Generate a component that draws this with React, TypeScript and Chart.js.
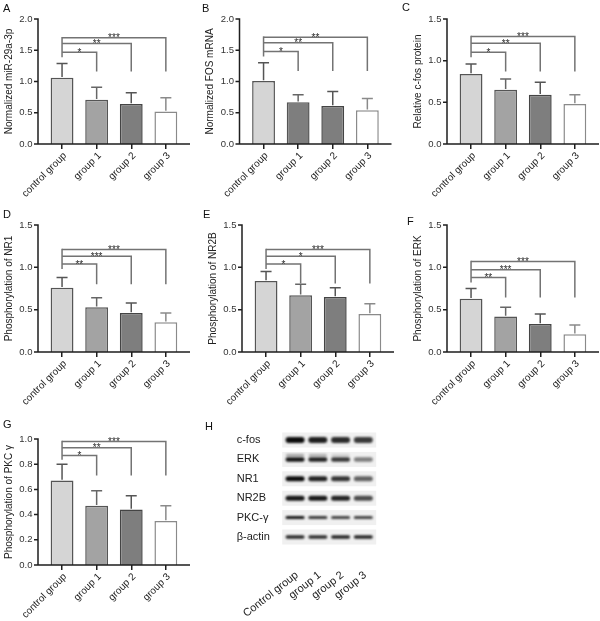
import React, { useEffect, useRef } from 'react';
import { Chart, registerables } from 'chart.js';

Chart.register(...registerables);

const FONT = "'Liberation Sans', Arial, Helvetica, sans-serif";

// ---------- data ----------
const groups = ['control group', 'group 1', 'group 2', 'group 3'];

const mir29Mean = [1.06, 0.71, 0.64, 0.52];
const mir29Err = [0.23, 0.2, 0.18, 0.22];
const mir29Stars = ['*', '**', '***'];
const mir29Levels = [1.47, 1.61, 1.7];

const fosMean = [1.01, 0.67, 0.61, 0.54];
const fosErr = [0.29, 0.12, 0.23, 0.19];
const fosStars = ['*', '**', '**'];
const fosLevels = [1.48, 1.62, 1.71];

const cfosMean = [0.84, 0.65, 0.59, 0.48];
const cfosErr = [0.12, 0.13, 0.15, 0.11];
const cfosStars = ['*', '**', '***'];
const cfosLevels = [1.1, 1.21, 1.29];

const nr1Mean = [0.76, 0.53, 0.46, 0.35];
const nr1Err = [0.12, 0.11, 0.12, 0.11];
const nr1Stars = ['**', '***', '***'];
const nr1Levels = [1.04, 1.13, 1.21];

const nr2bMean = [0.84, 0.67, 0.65, 0.45];
const nr2bErr = [0.11, 0.13, 0.11, 0.12];
const nr2bStars = ['*', '*', '***'];
const nr2bLevels = [1.04, 1.13, 1.21];

const erkMean = [0.63, 0.42, 0.33, 0.21];
const erkErr = [0.12, 0.11, 0.12, 0.11];
const erkStars = ['**', '***', '***'];
const erkLevels = [0.88, 0.97, 1.07];

const pkcMean = [0.67, 0.47, 0.44, 0.35];
const pkcErr = [0.13, 0.12, 0.11, 0.12];
const pkcStars = ['*', '**', '***'];
const pkcLevels = [0.87, 0.93, 0.98];

// western blot (panel H)
const lanes = ['Control group', 'group 1', 'group 2', 'group 3'];
const proteins = ['c-fos', 'ERK', 'NR1', 'NR2B', 'PKC-\u03b3', '\u03b2-actin'];
const cfosBand = [1.0, 0.92, 0.86, 0.8];
const erkBand = [0.95, 0.9, 0.8, 0.5];
const erkUpperBand = [0.35, 0.3, 0.15, 0.0];
const nr1Band = [1.0, 0.9, 0.82, 0.62];
const nr2bBand = [0.95, 0.95, 0.9, 0.72];
const pkcBand = [0.95, 0.8, 0.75, 0.75];
const actinBand = [0.88, 0.86, 0.9, 0.9];
const bandRows = [cfosBand, erkBand, nr1Band, nr2bBand, pkcBand, actinBand];

// ---------- styles ----------
const FILLS = ['#d5d5d5', '#a3a3a3', '#7e7e7e', '#ffffff'];
const FILLS_B = ['#d5d5d5', '#7e7e7e', '#7e7e7e', '#ffffff'];
const BORDERS = ['#555555', '#555555', '#444444', '#8a8a8a'];
const ERRC = ['#555555', '#666666', '#555555', '#8a8a8a'];

type Panel = {
  letter: string; lx: number; ly: number;
  title: string; mean: number[]; err: number[]; stars: string[]; levels: number[];
  leftStart: number; rightEnd: number; fills: string[];
  max: number; step: number;
  x0: number; y0: number; w: number; h: number; axisX: number; topPx: number; zeroPx: number;
};

const panels: Panel[] = [
  { letter: 'A', lx: 3, ly: 3, title: 'Normalized miR-29a-3p', mean: mir29Mean, err: mir29Err, stars: mir29Stars, levels: mir29Levels, leftStart: 1.39, rightEnd: 1.16, fills: FILLS, max: 2, step: 0.5, x0: 0, y0: 0, w: 200, h: 200, axisX: 38, topPx: 19, zeroPx: 144 },
  { letter: 'B', lx: 2, ly: 3, title: 'Normalized FOS mRNA', mean: fosMean, err: fosErr, stars: fosStars, levels: fosLevels, leftStart: 1.4, rightEnd: 1.17, fills: FILLS_B, max: 2, step: 0.5, x0: 200, y0: 0, w: 200, h: 200, axisX: 39.5, topPx: 19, zeroPx: 144 },
  { letter: 'C', lx: 2, ly: 2, title: 'Relative c-fos protein', mean: cfosMean, err: cfosErr, stars: cfosStars, levels: cfosLevels, leftStart: 1.04, rightEnd: 0.87, fills: FILLS, max: 1.5, step: 0.5, x0: 400, y0: 0, w: 200, h: 200, axisX: 47, topPx: 19, zeroPx: 144 },
  { letter: 'D', lx: 3, ly: 9, title: 'Phosphorylation of NR1', mean: nr1Mean, err: nr1Err, stars: nr1Stars, levels: nr1Levels, leftStart: 0.98, rightEnd: 0.8, fills: FILLS, max: 1.5, step: 0.5, x0: 0, y0: 200, w: 200, h: 210, axisX: 38, topPx: 25, zeroPx: 152 },
  { letter: 'E', lx: 3, ly: 9, title: 'Phosphorylation of NR2B', mean: nr2bMean, err: nr2bErr, stars: nr2bStars, levels: nr2bLevels, leftStart: 0.98, rightEnd: 0.81, fills: FILLS, max: 1.5, step: 0.5, x0: 200, y0: 200, w: 200, h: 210, axisX: 42, topPx: 25, zeroPx: 152 },
  { letter: 'F', lx: 7, ly: 16, title: 'Phosphorylation of ERK', mean: erkMean, err: erkErr, stars: erkStars, levels: erkLevels, leftStart: 0.82, rightEnd: 0.645, fills: FILLS, max: 1.5, step: 0.5, x0: 400, y0: 200, w: 200, h: 210, axisX: 47, topPx: 25, zeroPx: 152 },
  { letter: 'G', lx: 3, ly: 9, title: 'Phosphorylation of PKC \u03b3', mean: pkcMean, err: pkcErr, stars: pkcStars, levels: pkcLevels, leftStart: 0.836, rightEnd: 0.71, fills: FILLS, max: 1, step: 0.2, x0: 0, y0: 410, w: 200, h: 211, axisX: 38, topPx: 29, zeroPx: 155 },
];

const CAT_W = 34.6;

function barConfig(p: Panel): any {
  const chartLeft = p.axisX + 6.75;
  const chartRight = chartLeft + CAT_W * 4;
  const decor = {
    id: 'decor' + p.letter,
    afterDraw(chart: any) {
      const ctx = chart.ctx as CanvasRenderingContext2D;
      const xs = chart.scales.x;
      const ys = chart.scales.y;
      ctx.save();
      const y0 = ys.getPixelForValue(0);
      const yTop = ys.getPixelForValue(p.max);
      // error bars
      p.mean.forEach((m, i) => {
        const xc = xs.getPixelForValue(i);
        const yv = ys.getPixelForValue(m);
        const ye = ys.getPixelForValue(m + p.err[i]);
        ctx.strokeStyle = ERRC[i];
        ctx.lineWidth = 1.5;
        ctx.beginPath();
        ctx.moveTo(xc, yv - 0.75);
        ctx.lineTo(xc, ye);
        ctx.moveTo(xc - 5.5, ye);
        ctx.lineTo(xc + 5.5, ye);
        ctx.stroke();
      });
      // significance brackets
      const xc0 = xs.getPixelForValue(0);
      ctx.strokeStyle = '#737373';
      ctx.lineWidth = 1.5;
      ctx.beginPath();
      ctx.moveTo(xc0, ys.getPixelForValue(p.leftStart));
      ctx.lineTo(xc0, ys.getPixelForValue(p.levels[2]) - 0.75);
      ctx.stroke();
      p.levels.forEach((lv, k) => {
        const xt = xs.getPixelForValue(k + 1);
        const ly = ys.getPixelForValue(lv);
        ctx.beginPath();
        ctx.moveTo(xc0, ly);
        ctx.lineTo(xt, ly);
        ctx.moveTo(xt, ly - 0.75);
        ctx.lineTo(xt, ys.getPixelForValue(p.rightEnd));
        ctx.stroke();
        ctx.fillStyle = '#2a2a2a';
        ctx.font = `10px ${FONT}`;
        ctx.textAlign = 'center';
        ctx.textBaseline = 'alphabetic';
        ctx.fillText(p.stars[k], (xc0 + xt) / 2, ly + 3.6);
      });
      // axes
      ctx.strokeStyle = '#1e1e1e';
      ctx.lineWidth = 1.5;
      ctx.beginPath();
      ctx.moveTo(p.axisX, yTop - 0.75);
      ctx.lineTo(p.axisX, y0 + 0.75);
      ctx.moveTo(p.axisX - 0.75, y0);
      ctx.lineTo(p.axisX + 152, y0);
      ys.ticks.forEach((t: any) => {
        const py = ys.getPixelForValue(t.value);
        ctx.moveTo(p.axisX - 4, py);
        ctx.lineTo(p.axisX, py);
      });
      ctx.stroke();
      ctx.restore();
    },
  };
  return {
    type: 'bar',
    data: {
      labels: groups,
      datasets: [{
        data: p.mean,
        backgroundColor: p.fills,
        borderColor: BORDERS,
        borderWidth: 1.5,
        barPercentage: 0.66,
        categoryPercentage: 1,
      }],
    },
    options: {
      animation: false,
      responsive: false,
      maintainAspectRatio: false,
      devicePixelRatio: 1,
      layout: { padding: { left: 0, right: p.w - chartRight, top: p.topPx, bottom: 0 } },
      plugins: { legend: { display: false }, tooltip: { enabled: false } },
      scales: {
        x: {
          grid: { display: true, offset: false, drawOnChartArea: false, drawTicks: true, tickLength: 5, color: '#1e1e1e', lineWidth: 1.5 },
          border: { display: false },
          ticks: { minRotation: 45, maxRotation: 45, autoSkip: false, padding: 1, labelOffset: 3, color: '#222', font: { family: FONT, size: 10 } },
          afterFit: (s: any) => { s.height = p.h - p.zeroPx; },
        },
        y: {
          min: 0,
          max: p.max,
          grid: { display: false, drawTicks: false },
          border: { display: false },
          ticks: {
            stepSize: p.step,
            padding: chartLeft - p.axisX + 5.5,
            color: '#333',
            font: { family: FONT, size: 9.5 },
            callback: (v: any) => Number(v).toFixed(1),
          },
          title: {
            display: true,
            text: p.title,
            color: '#222',
            font: { family: FONT, size: 10 },
            padding: { top: p.axisX - 35, bottom: 0 },
          },
          afterFit: (s: any) => { s.width = chartLeft; },
        },
      },
    },
    plugins: [decor],
  };
}

function BarPanel({ p }: { p: Panel }) {
  const ref = useRef<HTMLCanvasElement | null>(null);
  useEffect(() => {
    const chart = new Chart(ref.current as HTMLCanvasElement, barConfig(p));
    return () => chart.destroy();
  }, []);
  return (
    <div style={{ position: 'absolute', left: p.x0, top: p.y0, width: p.w, height: p.h }}>
      <canvas ref={ref} width={p.w} height={p.h} style={{ display: 'block', width: p.w, height: p.h }} />
      <div style={{ position: 'absolute', left: p.lx, top: p.ly, font: `11px ${FONT}`, lineHeight: '11px', color: '#111' }}>{p.letter}</div>
    </div>
  );
}

// ---------- western blot panel ----------
const H_W = 200;
const H_H = 211;
const BAND_THICK = [6, 4.5, 5, 5, 3, 3.5];

function blotConfig(): any {
  const chartLeft = 83.7;
  const chartRight = 174.7;
  const chartTop = 20.3;
  const chartBottom = 136.7;
  const blot = {
    id: 'blot',
    beforeDatasetsDraw(chart: any) {
      const ctx = chart.ctx as CanvasRenderingContext2D;
      const xs = chart.scales.x;
      const ys = chart.scales.y;
      const ca = chart.chartArea;
      ctx.save();
      proteins.forEach((_, r) => {
        const py = ys.getPixelForValue(r);
        ctx.fillStyle = '#f0f0f0';
        ctx.fillRect(ca.left - 1.5, py - 7.5, ca.right - ca.left + 3, 15);
      });
      ctx.filter = 'blur(1.1px)';
      bandRows.forEach((row, r) => {
        const py = ys.getPixelForValue(r);
        const t = BAND_THICK[r];
        row.forEach((a, c) => {
          const px = xs.getPixelForValue(c);
          ctx.fillStyle = `rgba(12,12,12,${a})`;
          ctx.beginPath();
          ctx.roundRect(px - 9.5, py - t / 2, 19, t, t / 2);
          ctx.fill();
          if (r === 1 && erkUpperBand[c] > 0) {
            ctx.fillStyle = `rgba(12,12,12,${erkUpperBand[c]})`;
            ctx.beginPath();
            ctx.roundRect(px - 9, py - 5.5, 18, 2.5, 1.2);
            ctx.fill();
          }
        });
      });
      ctx.restore();
    },
  };
  return {
    type: 'scatter',
    data: {
      datasets: [{
        data: proteins.flatMap((_, r) => lanes.map((__, c) => ({ x: c, y: r }))),
        pointRadius: 0,
      }],
    },
    options: {
      animation: false,
      responsive: false,
      maintainAspectRatio: false,
      devicePixelRatio: 1,
      layout: { padding: { left: 36.7, right: H_W - chartRight, top: chartTop, bottom: 0 } },
      plugins: { legend: { display: false }, tooltip: { enabled: false } },
      scales: {
        x: {
          type: 'category',
          labels: lanes,
          offset: true,
          grid: { display: false, drawTicks: false },
          border: { display: false },
          ticks: { minRotation: 38, maxRotation: 38, autoSkip: false, padding: 22, labelOffset: 2, color: '#222', font: { family: FONT, size: 11 } },
          afterFit: (s: any) => { s.height = H_H - chartBottom; },
        },
        y: {
          type: 'category',
          labels: proteins,
          offset: true,
          grid: { display: false, drawTicks: false },
          border: { display: false },
          ticks: { crossAlign: 'far', autoSkip: false, color: '#222', font: { family: FONT, size: 11 } },
          afterFit: (s: any) => { s.width = chartLeft - 36.7; },
        },
      },
    },
    plugins: [blot],
  };
}

function BlotPanel() {
  const ref = useRef<HTMLCanvasElement | null>(null);
  useEffect(() => {
    const chart = new Chart(ref.current as HTMLCanvasElement, blotConfig());
    return () => chart.destroy();
  }, []);
  return (
    <div style={{ position: 'absolute', left: 200, top: 410, width: H_W, height: H_H }}>
      <canvas ref={ref} width={H_W} height={H_H} style={{ display: 'block', width: H_W, height: H_H }} />
      <div style={{ position: 'absolute', left: 5, top: 11, font: `11px ${FONT}`, lineHeight: '11px', color: '#111' }}>H</div>
    </div>
  );
}

export default function App() {
  return (
    <div style={{ position: 'absolute', left: 0, top: 0, width: 600, height: 621, background: '#ffffff', overflow: 'hidden' }}>
      {panels.map((p) => <BarPanel key={p.letter} p={p} />)}
      <BlotPanel />
    </div>
  );
}
